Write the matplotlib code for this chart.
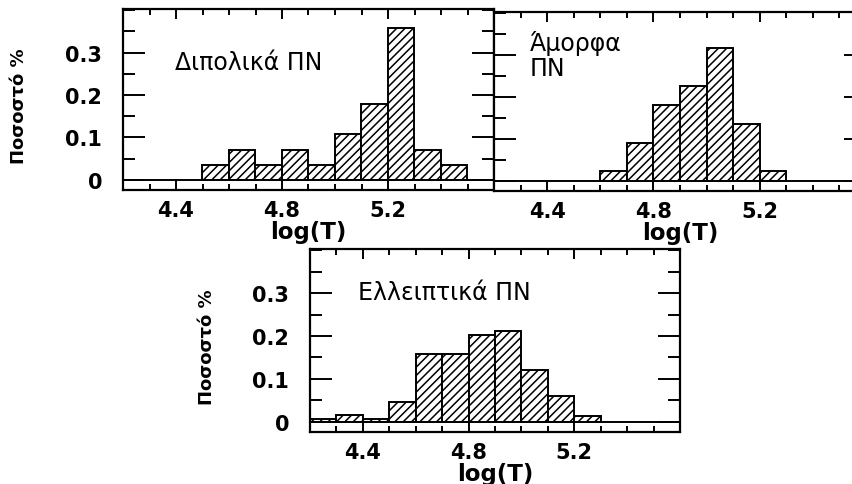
import matplotlib
matplotlib.use("Agg")
import matplotlib.pyplot as plt
from matplotlib.ticker import FixedLocator, MultipleLocator
import numpy as np

plt.rcParams["font.family"] = "DejaVu Sans"
plt.rcParams["hatch.linewidth"] = 1.1

BIN = 0.1
XLIM = (4.2, 5.6)
YLIM = (-0.024, 0.403)

# histogram fractions (left bin edge + heights)
dipolar_start = 4.5
dipolar = [0.036, 0.071, 0.036, 0.071, 0.036, 0.107, 0.179, 0.357, 0.071, 0.036]

amorphous_start = 4.6
amorphous = [0.023, 0.091, 0.182, 0.227, 0.318, 0.136, 0.023]

elliptical_start = 4.2
elliptical = [0.007, 0.015, 0.007, 0.045, 0.158, 0.158, 0.203, 0.211, 0.121, 0.060, 0.014]

x_ticks = [4.4, 4.8, 5.2]
x_ticklabels = ["4.4", "4.8", "5.2"]
y_ticks = [0, 0.1, 0.2, 0.3]
y_ticklabels = ["0", "0.1", "0.2", "0.3"]

titles = ["Διπολικά ΠΝ", "Άμορφα\nΠΝ", "Ελλειπτικά ΠΝ"]
xlabel = "log(T)"
ylabel = "Ποσοστό %"


def draw_hist(ax, start, values, title, title_pos, title_va="center", show_ylabels=True):
    edges = start + BIN * np.arange(len(values))
    ax.bar(edges, values, width=BIN, align="edge", bottom=0,
           facecolor="white", edgecolor="black", hatch="////", linewidth=1.4)
    ax.axhline(0, color="black", lw=1.4)
    ax.set_xlim(*XLIM)
    ax.set_ylim(*YLIM)

    ax.xaxis.set_major_locator(FixedLocator(x_ticks))
    ax.set_xticklabels(x_ticklabels)
    ax.xaxis.set_minor_locator(MultipleLocator(0.1))
    ax.yaxis.set_major_locator(FixedLocator(y_ticks))
    ax.yaxis.set_minor_locator(MultipleLocator(0.05))
    if show_ylabels:
        ax.set_yticklabels(y_ticklabels)
    else:
        ax.set_yticklabels([])

    ax.tick_params(axis="both", which="both", direction="in",
                   top=True, right=True, width=1.4)
    ax.tick_params(axis="x", which="major", length=7, pad=7)
    ax.tick_params(axis="x", which="minor", length=4)
    ax.tick_params(axis="y", which="major", length=16, pad=15)
    ax.tick_params(axis="y", which="minor", length=8.5)
    for lab in ax.get_xticklabels() + ax.get_yticklabels():
        lab.set_fontsize(15)
        lab.set_fontweight("bold")
    for sp in ax.spines.values():
        sp.set_linewidth(1.6)

    ax.set_xlabel(xlabel, fontsize=16.5, fontweight="bold", labelpad=0)
    if show_ylabels:
        ax.set_ylabel(ylabel, fontsize=13, fontweight="bold",
                      family=["Liberation Sans Narrow", "DejaVu Sans"])
        ax.yaxis.set_label_coords(-0.255, 0.47)

    ax.text(title_pos[0], title_pos[1], title, transform=ax.transAxes,
            fontsize=17, va=title_va, ha="left", linespacing=1.05)


fig = plt.figure(figsize=(8.53, 4.85), dpi=100)
W, H = 853.0, 485.0


def px_axes(left, top, right, bottom):
    return fig.add_axes([left / W, 1 - bottom / H, (right - left) / W, (bottom - top) / H])


ax1 = px_axes(123, 10, 494, 191)
ax2 = px_axes(494, 13, 866, 192)
ax3 = px_axes(310, 250, 680, 433)

draw_hist(ax1, dipolar_start, dipolar, titles[0], (0.14, 0.705))
draw_hist(ax2, amorphous_start, amorphous, titles[1], (0.095, 0.9), title_va="top",
          show_ylabels=False)
draw_hist(ax3, elliptical_start, elliptical, titles[2], (0.13, 0.765))

fig.savefig("out.png", dpi=100)
